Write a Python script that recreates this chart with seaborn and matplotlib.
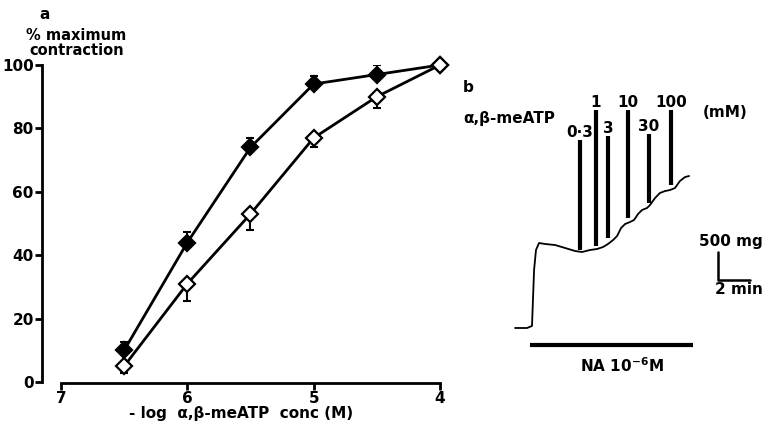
import numpy as np
import pandas as pd
import seaborn as sns
import matplotlib.pyplot as plt

# panel a: concentration-response data
log_conc = [6.5, 6.0, 5.5, 5.0, 4.5, 4.0]
filled_resp = [10, 44, 74, 94, 97, 100]
filled_sem = [2.5, 3.2, 3, 2.5, 3, 0]
open_resp = [5, 31, 53, 77, 90, 100]
open_sem = [2, 5.4, 5, 3, 3.5, 0]

# panel b: tension trace (min, mg)
trace_t = [0, 0.75, 1.06, 1.12, 1.19, 1.31, 1.5, 1.88, 2.5, 3.13, 3.75, 4.19, 4.69,
           5.13, 5.5, 5.81, 6.13, 6.38, 6.63, 6.88, 7.19, 7.44, 7.69, 7.94, 8.25,
           8.44, 8.75, 9.06, 9.38, 9.69, 10.0, 10.31, 10.63, 10.88]
trace_mg = [0, 0, 36, 500, 1036, 1393, 1518, 1500, 1482, 1429, 1375, 1357, 1393,
            1411, 1446, 1500, 1571, 1643, 1786, 1857, 1893, 1929, 2036, 2107, 2143,
            2196, 2321, 2411, 2446, 2464, 2500, 2625, 2696, 2714]
dose_labels = ["0·3", "1", "3", "10", "30", "100"]
dose_t = [4.06, 5.06, 5.81, 7.06, 8.38, 9.75]
dose_bottom = [1400, 1460, 1600, 1960, 2230, 2560]
dose_top = [3357, 3893, 3429, 3893, 3464, 3893]

sns.set_style("ticks", rc={"text.color": "black", "axes.labelcolor": "black",
                           "xtick.color": "black", "ytick.color": "black",
                           "axes.edgecolor": "black"})
plt.rcParams['font.family'] = ['DejaVu Sans']
plt.rcParams['font.weight'] = 'bold'

fig = plt.figure(figsize=(7.62, 4.34), dpi=100)

# ---- panel a ----
ax = fig.add_axes([0.0551, 0.1175, 0.5223, 0.7327])
df = pd.DataFrame({"x": log_conc * 2,
                   "y": filled_resp + open_resp,
                   "grp": ["filled"] * 6 + ["open"] * 6})
for grp, fc, sem, dirn in [("filled", "black", filled_sem, "up"),
                           ("open", "white", open_sem, "down")]:
    d = df[df.grp == grp]
    err = [[0] * 6, sem] if dirn == "up" else [sem, [0] * 6]
    ax.errorbar(d.x, d.y, yerr=err, fmt="none", ecolor="black", elinewidth=1.5,
                capsize=3, capthick=1.5, zorder=2)
    sns.lineplot(data=d, x="x", y="y", ax=ax, color="black", linewidth=2,
                 marker="D", markersize=8.5, markerfacecolor=fc,
                 markeredgecolor="black", markeredgewidth=1.6,
                 errorbar=None, clip_on=False, zorder=3)

ax.set_xlim(7.15, 4.0)
ax.set_ylim(-0.3, 100)
sns.despine(ax=ax)
ax.spines["left"].set_bounds(0, 100)
ax.spines["bottom"].set_bounds(4, 7)
for s in ["left", "bottom"]:
    ax.spines[s].set_linewidth(2)
ax.set_xticks([7, 6, 5, 4])
ax.set_yticks([0, 20, 40, 60, 80, 100])
ax.tick_params(width=2, length=5, labelsize=11, pad=1)
ax.set_xlabel("- log  α,β-meATP  conc (M)", fontsize=11, fontweight="bold", labelpad=0)
ax.set_ylabel("")
fig.text(0.052, 0.985, "a", fontsize=11, fontweight="bold", va="top")
fig.text(0.100, 0.935, "% maximum\ncontraction", fontsize=10.5, fontweight="bold",
         va="top", ha="center", multialignment="center", linespacing=0.95)

# ---- panel b ----
bx = fig.add_axes([0.6037, 0.0, 0.3963, 0.8157])
sns.lineplot(x=trace_t, y=trace_mg, ax=bx, color="black", linewidth=1.3,
             sort=False, errorbar=None)
bx.vlines(dose_t, dose_bottom, dose_top, color="black", linewidth=3)
for i, lab in enumerate(dose_labels):
    bx.annotate(lab, (dose_t[i], dose_top[i]), xytext=(0, 0), textcoords="offset points",
                ha="center", va="bottom", fontsize=11, fontweight="bold")
bx.text(-3.25, 3750, "α,β-meATP", fontsize=11, fontweight="bold", va="center")
bx.text(11.75, 3840, "(mM)", fontsize=11, fontweight="bold", va="center")
bx.text(-3.25, 4300, "b", fontsize=11, fontweight="bold", va="center")

# NA application bar
bx.hlines(-304, 0.94, 11.1, color="black", linewidth=3)
bx.text(6.7, -500, "NA 10$^{-6}$M", fontsize=11, fontweight="bold", ha="center", va="top")

# scale bars: 500 mg, 2 min
bx.plot([12.69, 12.69, 14.69], [1357, 857, 857], color="black", linewidth=1.8)
bx.text(11.5, 1550, "500 mg", fontsize=11, fontweight="bold", va="center")
bx.text(12.5, 680, "2 min", fontsize=11, fontweight="bold", va="center")

bx.set_xlim(-3.44, 15.44)
bx.set_ylim(-1893, 4429)
bx.axis("off")

fig.savefig("out.png", dpi=100)
